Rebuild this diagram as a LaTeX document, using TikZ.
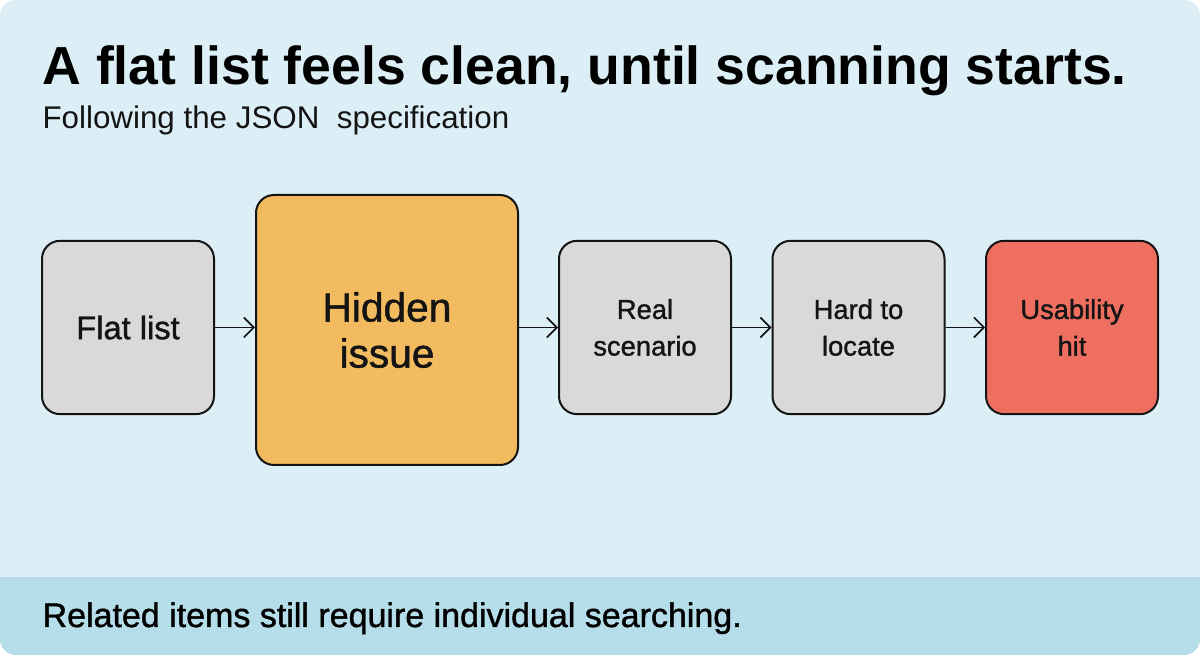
\documentclass[tikz,border=0pt]{standalone}
\usepackage{fontspec}
\setmainfont{Liberation Sans}
\newfontfamily\mediumfont[FakeBold=1.2]{Liberation Sans}
\usetikzlibrary{arrows.meta}

\definecolor{bgblue}{RGB}{221,239,246}
\definecolor{bandblue}{RGB}{181,222,234}
\definecolor{boxgray}{RGB}{217,217,217}
\definecolor{boxorange}{RGB}{242,187,95}
\definecolor{boxred}{RGB}{238,111,95}
\definecolor{inkdark}{RGB}{20,20,20}

\tikzset{every picture/.style={line width=0.9pt}}
\tikzset{
  stepbox/.style={draw=inkdark, line width=1.5pt, rounded corners=13.5pt, align=center,
    inner sep=0pt, minimum width=129pt, minimum height=130pt, fill=boxgray,
    font=\mediumfont\fontsize{20.5}{27.5}\selectfont, text=inkdark},
  flowarrow/.style={draw=inkdark, line width=1.2pt, -{Straight Barb[length=7.5pt,width=15pt]}}
}

\begin{document}
\begin{tikzpicture}[x=0.75pt,y=0.75pt,yscale=-1,xscale=1]
\useasboundingbox (0,0) rectangle (1200,655);
%Background
\fill [white] (0,0) rectangle (1200,655);
\fill [bgblue, rounded corners=12pt] (0,0) rectangle (1200,655);
\begin{scope}
\clip [rounded corners=12pt] (0,0) rectangle (1200,655);
\fill [bandblue] (0,577) rectangle (1200,655);
\end{scope}
% Text Node
\node (title) [anchor=base west, inner sep=0pt, text=black, font=\fontsize{40.2}{46}\selectfont\bfseries] at (42,85) {A flat list feels clean, until scanning starts.};
% Text Node
\node (subtitle) [anchor=base west, inner sep=0pt, text=inkdark, font=\fontsize{23.5}{28}\selectfont] at (42,129) {Following the JSON\ \ specification};
%Rounded Rect
\node (flat) [stepbox, font=\mediumfont\fontsize{24.5}{28}\selectfont] at (128,327.5) {Flat list};
\node (hidden) [stepbox, fill=boxorange, minimum width=196.5pt, minimum height=202.5pt, font=\mediumfont\fontsize{30.5}{34.5}\selectfont] at (387,330) {Hidden\\issue};
\node (real) [stepbox] at (645,327.5) {Real\\scenario};
\node (hard) [stepbox] at (858.5,327.5) {Hard to\\locate};
\node (usab) [stepbox, fill=boxred] at (1072,327.5) {Usability\\hit};
%Straight Lines
\draw [flowarrow] (flat.east) -- (flat.east -| hidden.west);
\draw [flowarrow] (hidden.east |- real.west) -- (real.west);
\draw [flowarrow] (real.east) -- (hard.west);
\draw [flowarrow] (hard.east) -- (usab.west);
% Text Node
\node (note) [anchor=base west, inner sep=0pt, text=black, font=\mediumfont\fontsize{25.5}{29}\selectfont] at (42,627) {Related items still require individual searching.};
\end{tikzpicture}
\end{document}
